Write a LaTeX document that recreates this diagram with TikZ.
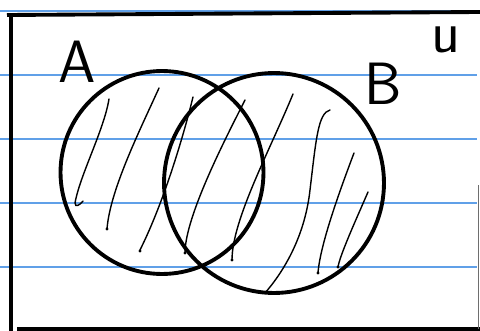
\documentclass[tikz,border=0pt]{standalone}
\usepackage{tikz}
\usetikzlibrary{positioning}
\definecolor{ruleblue}{RGB}{96,160,232}
\definecolor{inkblack}{RGB}{0,0,0}
\definecolor{edgegray}{RGB}{110,110,110}

\tikzset{
  setcircle/.style={circle, draw=inkblack, line width=2.2pt, inner sep=0pt},
  setlabel/.style={font=\sffamily\fontsize{34}{34}\selectfont, inner sep=0pt},
  hatch/.style={draw=inkblack, line width=0.8pt, line cap=round},
  ruling/.style={draw=ruleblue, line width=0.8pt},
  frame/.style={draw=inkblack, line width=2.2pt}
}

\begin{document}
\begin{tikzpicture}[x=0.02cm, y=-0.02cm, font=\small]
    \useasboundingbox (0,0) rectangle (480,331);
    \fill[white] (0,0) rectangle (480,331);
    % ruled paper
    \foreach \ry in {11,75,139,203,267}
      \draw[ruling] (0,\ry) -- (477,\ry);
    % frame of U
    \draw[frame] (7,15) -- (480,12);
    \draw[frame] (11,15) -- (11,331);
    \draw[frame] (17,329) -- (480,329);
    \draw[draw=edgegray, line width=0.9pt] (478.5,185) -- (478.5,329);
    % sets
    \node[setcircle, minimum size=4.06cm] (setA) at (162,172.5) {};
    \node[setcircle, minimum size=4.4cm] (setB) at (274,183) {};
    \node[setlabel] (labA) at (77,62) {A};
    \node[setlabel] (labB) at (383,84) {B};
    \node[setlabel] (labU) at (446,40) {u};
    % shading A union B
    \draw[hatch] (109,99) .. controls (104,130) and (80,175) .. (75,203) .. controls (75,208) and (80,205) .. (83,201);
    \draw[hatch] (159,88) .. controls (140,130) and (110,190) .. (107,229);
    \draw[hatch] (193,97) .. controls (185,130) and (165,200) .. (140,250);
    \draw[hatch] (245,100) .. controls (230,130) and (185,215) .. (185,253);
    \draw[hatch] (293,94) .. controls (270,150) and (232,220) .. (232,260);
    \draw[hatch] (330,110) .. controls (318,113) and (316,140) .. (310,190) .. controls (305,235) and (285,270) .. (265,293);
    \draw[hatch] (354,153) .. controls (340,190) and (320,245) .. (318,273);
    \draw[hatch] (368,192) .. controls (355,222) and (340,255) .. (338,267);
    \foreach \dx/\dy in {107/229,140/251,185/253,232/260,318/273,338/267}
      \fill[inkblack] (\dx,\dy) circle (1.6);
\end{tikzpicture}
\end{document}
